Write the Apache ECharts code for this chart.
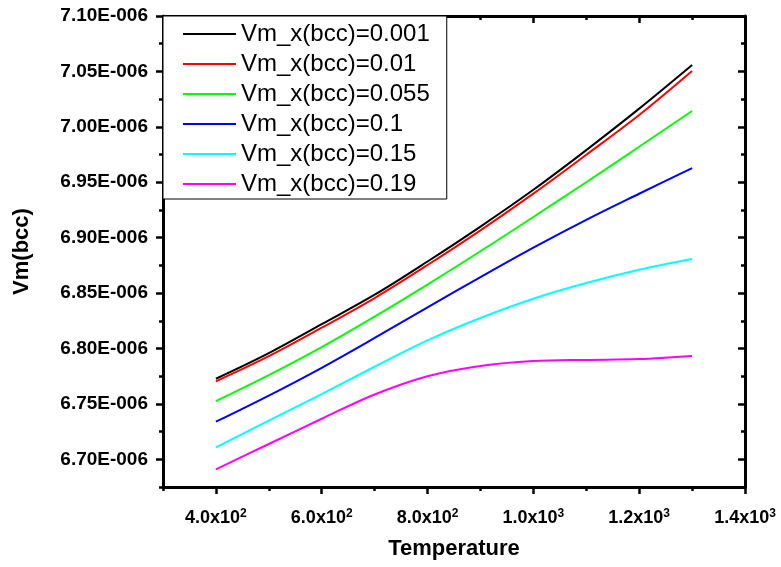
<!DOCTYPE html>
<html>
<head>
<meta charset="utf-8">
<script src="https://cdn.jsdelivr.net/npm/echarts@6/dist/echarts.min.js"></script>
<style>
html,body{margin:0;padding:0;background:#fff;}
#chart{width:781px;height:567px;}
</style>
</head>
<body>
<div id="chart"></div>
<script>
// Temperature (x) values
const temperatures = [400, 500, 600, 700, 800, 900, 1000, 1100, 1200, 1300];
// Vm(bcc) in units of 1E-006
const vm_0_001 = [6.7727, 6.7958, 6.8219, 6.8485, 6.8785, 6.9100, 6.9432, 6.9790, 7.0164, 7.0558];
const vm_0_01  = [6.7703, 6.7930, 6.8187, 6.8455, 6.8753, 6.9066, 6.9397, 6.9748, 7.0107, 7.0504];
const vm_0_055 = [6.7525, 6.7760, 6.8013, 6.8288, 6.8577, 6.8877, 6.9186, 6.9500, 6.9820, 7.0143];
const vm_0_1   = [6.7339, 6.7575, 6.7826, 6.8095, 6.8371, 6.8643, 6.8909, 6.9160, 6.9396, 6.9628];
const vm_0_15  = [6.7108, 6.7348, 6.7589, 6.7835, 6.8073, 6.8275, 6.8449, 6.8590, 6.8710, 6.8807];
const vm_0_19  = [6.6909, 6.7138, 6.7366, 6.7585, 6.7750, 6.7842, 6.7886, 6.7897, 6.7904, 6.7932];

const seriesNames = ['Vm_x(bcc)=0.001', 'Vm_x(bcc)=0.01', 'Vm_x(bcc)=0.055', 'Vm_x(bcc)=0.1', 'Vm_x(bcc)=0.15', 'Vm_x(bcc)=0.19'];
const seriesColors = ['#000000', '#ff0000', '#00ff00', '#0000ff', '#00ffff', '#ff00ff'];
const seriesValues = [vm_0_001, vm_0_01, vm_0_055, vm_0_1, vm_0_15, vm_0_19];

// Axis ticks
const xMajorTicks = [400, 600, 800, 1000, 1200, 1400];
const xMinorTicks = [300, 500, 700, 900, 1100, 1300];
const yMajorTicks = [6.70, 6.75, 6.80, 6.85, 6.90, 6.95, 7.00, 7.05, 7.10];
const yMinorTicks = [6.675, 6.725, 6.775, 6.825, 6.875, 6.925, 6.975, 7.025, 7.075];
const xRange = [300, 1400];
const yRange = [6.675, 7.10];

const FONT = "'Liberation Sans', Arial, sans-serif";
const AXIS_LINE = { show: true, lineStyle: { color: '#000', width: 3 } };

function xLabel(v) {
  const e = Math.floor(Math.log10(v) + 1e-9);
  const m = v / Math.pow(10, e);
  return '{b|' + m.toFixed(1) + 'x10}{s|' + e + '}';
}

function xAx(position, ticks, len, inside, showLine, showLabel) {
  return {
    type: 'value', position: position, min: xRange[0], max: xRange[1],
    axisLine: showLine ? AXIS_LINE : { show: false },
    axisTick: { show: true, inside: inside, length: len, customValues: ticks, lineStyle: { color: '#000', width: 2.5 } },
    axisLabel: showLabel ? {
      show: true, customValues: ticks, margin: 21, formatter: xLabel,
      rich: {
        b: { fontFamily: FONT, fontWeight: 'bold', fontSize: 18, color: '#000', lineHeight: 20 },
        s: { fontFamily: FONT, fontWeight: 'bold', fontSize: 12, color: '#000', verticalAlign: 'top', lineHeight: 20, padding: [0, 0, 6, 0] }
      }
    } : { show: false },
    splitLine: { show: false }
  };
}

function yAx(position, ticks, len, inside, showLine, showLabel) {
  return {
    type: 'value', position: position, min: yRange[0], max: yRange[1],
    axisLine: showLine ? AXIS_LINE : { show: false },
    axisTick: { show: true, inside: inside, length: len, customValues: ticks, lineStyle: { color: '#000', width: 2.5 } },
    axisLabel: showLabel ? {
      show: true, customValues: ticks, margin: 15,
      fontFamily: FONT, fontWeight: 'bold', fontSize: 19, color: '#000',
      formatter: function (v) { return v.toFixed(2) + 'E-006'; }
    } : { show: false },
    splitLine: { show: false }
  };
}

const xMain = xAx('bottom', xMajorTicks, 7, false, true, true);
xMain.name = 'Temperature';
xMain.nameLocation = 'middle';
xMain.nameGap = 51;
xMain.nameTextStyle = { fontFamily: FONT, fontWeight: 'bold', fontSize: 22, color: '#000' };

const yMain = yAx('left', yMajorTicks, 7, false, true, true);
yMain.name = 'Vm(bcc)';
yMain.nameLocation = 'middle';
yMain.nameGap = 130;
yMain.nameTextStyle = { fontFamily: FONT, fontWeight: 'bold', fontSize: 22, color: '#000' };

const series = seriesNames.map(function (name, i) {
  return {
    name: name, type: 'line', xAxisIndex: 0, yAxisIndex: 0,
    data: temperatures.map(function (t, j) { return [t, seriesValues[i][j]]; }),
    showSymbol: false, symbol: 'none', smooth: 0.35,
    lineStyle: { color: seriesColors[i], width: 2 },
    itemStyle: { color: seriesColors[i] },
    z: 2
  };
});

const chart = echarts.init(document.getElementById('chart'), null, { renderer: 'canvas' });
chart.setOption({
  backgroundColor: '#ffffff',
  animation: false,
  grid: { left: 163, right: 36, top: 16, bottom: 80, containLabel: false },
  xAxis: [
    xMain,
    xAx('bottom', xMinorTicks, 4, false, false, false),
    xAx('top', xMajorTicks, 7, true, true, false),
    xAx('top', xMinorTicks, 4, true, false, false)
  ],
  yAxis: [
    yMain,
    yAx('left', yMinorTicks, 4, false, false, false),
    yAx('right', yMajorTicks, 7, true, true, false),
    yAx('right', yMinorTicks, 4, true, false, false)
  ],
  legend: {
    orient: 'vertical', left: 163, top: 16,
    padding: [3, 17, 0, 20], itemGap: 0,
    icon: 'rect', itemWidth: 53, itemHeight: 2,
    backgroundColor: '#ffffff', borderColor: '#000', borderWidth: 1,
    textStyle: { fontFamily: FONT, fontSize: 24, color: '#000', lineHeight: 30 },
    data: seriesNames,
    z: 10
  },
  series: series
});
</script>
</body>
</html>
